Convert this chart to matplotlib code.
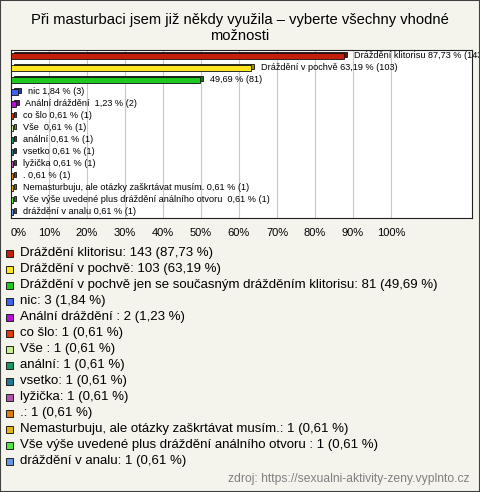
import matplotlib
matplotlib.use("Agg")
import matplotlib.pyplot as plt
from matplotlib.patches import Rectangle
import numpy as np

plt.rcParams["font.family"] = ["Liberation Sans", "DejaVu Sans"]

# ---- data -----------------------------------------------------------
title = "Při masturbaci jsem již někdy využila – vyberte všechny vhodné\nmožnosti"
total = 163
names = [
    "Dráždění klitorisu",
    "Dráždění v pochvě",
    "Dráždění v pochvě jen se současným drážděním klitorisu",
    "nic",
    "Anální dráždění ",
    "co šlo",
    "Vše ",
    "anální",
    "vsetko",
    "lyžička",
    ".",
    "Nemasturbuju, ale otázky zaškrtávat musím.",
    "Vše výše uvedené plus dráždění análního otvoru ",
    "dráždění v analu",
]
counts = [143, 103, 81, 3, 2, 1, 1, 1, 1, 1, 1, 1, 1, 1]
colors = [
    "#c41e0c", "#ffe61e", "#1ec81e", "#3c64f0", "#b414d2", "#e03c0c", "#c8f08c",
    "#1a9664", "#1e7896", "#b452b4", "#e07814", "#e6b40c", "#50e63c", "#6496e6",
]
xticks = list(range(0, 101, 10))
source = "zdroj: https://sexualni-aktivity-zeny.vyplnto.cz"

pcts = [100.0 * c / total for c in counts]


def fmt(p):
    return f"{p:.2f}".replace(".", ",")


# ---- figure ----------------------------------------------------------
W, H = 480, 492
bg = "#f4f3ec"
fig = plt.figure(figsize=(W / 100, H / 100), dpi=100, facecolor=bg)
fig.patches.append(Rectangle((0, 0), 1, 1, transform=fig.transFigure, fill=False,
                             edgecolor="#404040", linewidth=1.5))

fig.text(0.5, 1 - 28 / H, title, ha="center", va="center", fontsize=10.6,
         linespacing=1.2)

ax = fig.add_axes([11 / W, 1 - 218 / H, 461 / W, 168 / H])
ax.set_facecolor("white")
y = np.arange(len(names))
depth_x, depth_y = 0.75, 0.13
dark = [tuple(0.6 * np.array(matplotlib.colors.to_rgb(c))) for c in colors]
ax.barh(y - depth_y, pcts, left=depth_x, height=0.44, color=dark,
        edgecolor="#101010", linewidth=0.6, zorder=2)
ax.barh(y, pcts, height=0.44, color=colors, edgecolor="#101010",
        linewidth=0.6, zorder=3)

for yi, n, p, c in zip(y, names, pcts, counts):
    label = f"{fmt(p)} % ({c})" if len(n) > 50 else f"{n} {fmt(p)} % ({c})"
    ax.annotate(label, (p, yi), xytext=(7, 0), textcoords="offset points",
                va="center", ha="left", fontsize=6.6, annotation_clip=False,
                zorder=4)

ax.set_xlim(0, 461 / 3.8)
ax.set_ylim(len(names) - 0.5, -0.5)
ax.set_xticks(xticks)
ax.set_xticklabels([f"{t}%" for t in xticks], fontsize=8)
ax.get_xticklabels()[0].set_horizontalalignment("left")
ax.tick_params(axis="x", length=0, pad=7)
ax.set_yticks([])
ax.grid(axis="x", color="#c8c8c8", linewidth=0.8, zorder=0)
for s in ax.spines.values():
    s.set_color("#202020")
    s.set_linewidth(0.8)

# ---- legend ----------------------------------------------------------
row0, step = 253, 16
for i, (n, p, c, col) in enumerate(zip(names, pcts, counts, colors)):
    yy = 1 - (row0 + i * step) / H
    fig.patches.append(Rectangle((6 / W, yy - 3.5 / H), 7 / W, 7 / H,
                                 transform=fig.transFigure, facecolor=col,
                                 edgecolor="#202020", linewidth=0.7))
    fig.text(19.5 / W, yy, f"{n}: {c} ({fmt(p)} %)", ha="left", va="center",
             fontsize=9.5)

fig.text(470 / W, 1 - 479 / H, source, ha="right", va="center", fontsize=8.7,
         color="#808080")

fig.savefig("out.png", dpi=100, facecolor=bg)
